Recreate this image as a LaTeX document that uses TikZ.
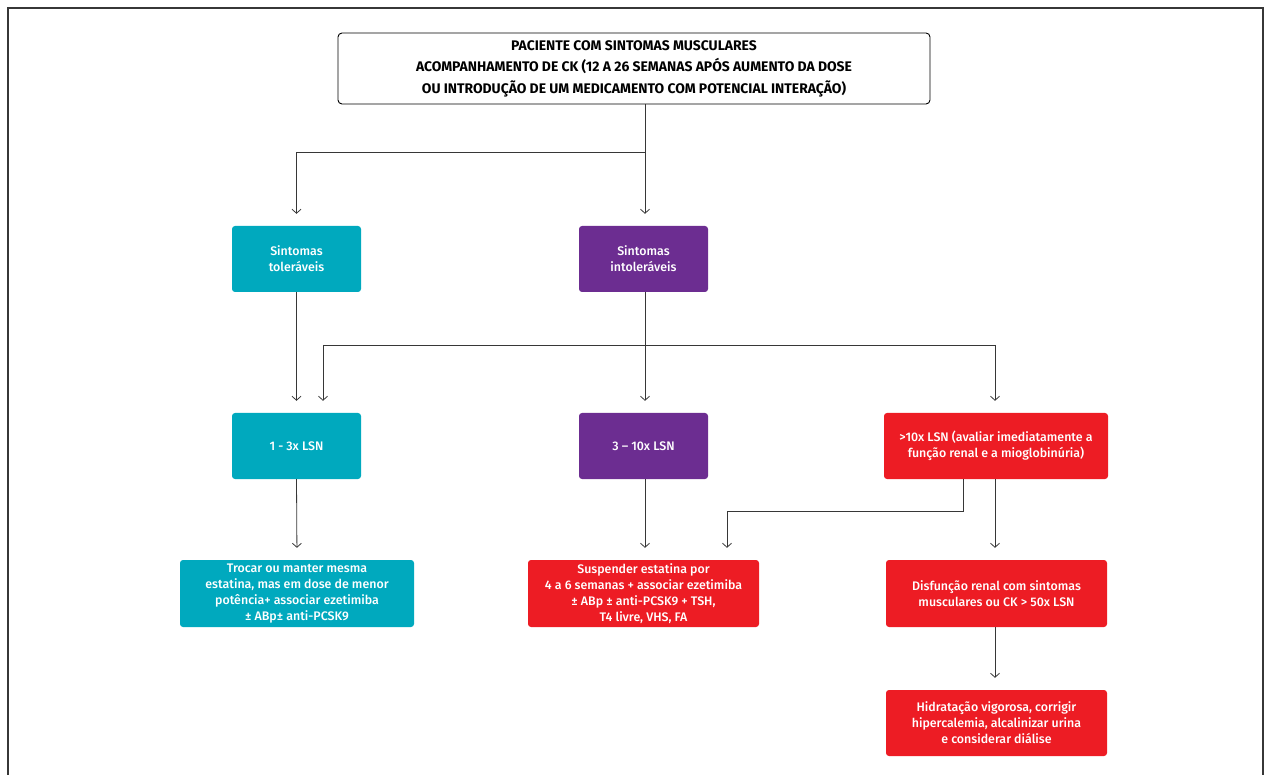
\documentclass[tikz,border=0pt]{standalone}
\usepackage{fontspec}
\setmainfont{Fira Sans}
\newfontfamily\medfont{Fira Sans}[UprightFont=* Medium, BoldFont=* Bold]
\usetikzlibrary{arrows.meta, positioning}
\definecolor{tealbox}{RGB}{0, 169, 190}
\definecolor{purplebox}{RGB}{108, 45, 145}
\definecolor{redbox}{RGB}{237, 28, 36}
\definecolor{linegray}{RGB}{55, 55, 55}
\tikzset{
  headbox/.style  = {rectangle, rounded corners=4pt, draw=black, fill=white, line width=0.9pt, minimum width=592, minimum height=71, align=center, font=\fontsize{13.9}{21.5}\selectfont\bfseries},
  tolbox/.style   = {rectangle, rounded corners=3pt, fill=tealbox, text=white, minimum width=129, minimum height=66, align=center, font=\medfont\fontsize{12.4}{16}\selectfont},
  intbox/.style   = {tolbox, fill=purplebox},
  alertbox/.style = {tolbox, fill=redbox},
  wideteal/.style = {tolbox, minimum width=234, minimum height=67},
  widered/.style  = {alertbox, minimum width=221, minimum height=67},
  link/.style     = {-{Straight Barb[length=4pt, width=9pt]}, linegray, line width=0.8pt, shorten >=12pt},
  line/.style     = {linegray, line width=0.8pt},
  frame/.style    = {linegray, line width=1.3pt},
}
\begin{document}
\begin{tikzpicture}[x=1pt, y=-1pt]

\useasboundingbox (0,0) rectangle (1269,775);

% moldura (sem lado inferior)
\draw[frame] (8,775) -- (8,8) -- (1263,8) -- (1263,775);

% === caixa principal ===
\node[headbox] (head) at (634,68.5) {PACIENTE COM SINTOMAS MUSCULARES\\ACOMPANHAMENTO DE CK (12 A 26 SEMANAS APÓS AUMENTO DA DOSE\\OU INTRODUÇÃO DE UM MEDICAMENTO COM POTENCIAL INTERAÇÃO)};

% === sintomas ===
\node[tolbox] (tol) at (296.5,259) {Sintomas\\toleráveis};
\node[intbox] (intol) at (643.5,259) {Sintomas\\intoleráveis};

% === níveis de CK ===
\node[tolbox] (low) at (296.5,446) {1 - 3x LSN};
\node[intbox] (mid) at (643.5,446) {3 – 10x LSN};
\node[alertbox, minimum width=224] (high) at (996,446) {>10x LSN (avaliar imediatamente a\\função renal e a mioglobinúria)};

% === condutas ===
\node[wideteal] (swap) at (297,593.5) {Trocar ou manter mesma\\estatina, mas em dose de menor\\potência+ associar ezetimiba\\± ABp± anti-PCSK9};
\node[widered, minimum width=231] (stop) at (643.5,593.5) {Suspender estatina por\\4 a 6 semanas + associar ezetimiba\\± ABp ± anti-PCSK9 + TSH,\\T4 livre, VHS, FA};
\node[widered] (renal) at (996.5,593.5) {Disfunção renal com sintomas\\musculares ou CK > 50x LSN};
\node[widered, minimum height=66] (hydra) at (996.5,723) {Hidratação vigorosa, corrigir\\hipercalemia, alcalinizar urina\\e considerar diálise};

% conectores: caixa principal -> sintomas
\coordinate (split) at (645,152);
\draw[line] (head.south -| split) -- (split);
\draw[link] (split) -| (tol.north);
\draw[link] (split) -- (split |- intol.north);

% toleráveis -> 1-3x
\draw[link] (tol.south) -- (low.north);

% intoleráveis -> três níveis
\coordinate (bus) at (645,345);
\coordinate (busl) at (323,345);
\coordinate (busr) at (995,345);
\draw[line] (intol.south -| bus) -- (bus);
\draw[line] (busl) -- (busr);
\draw[link] (busl) -- (busl |- low.north);
\draw[link] (bus) -- (bus |- mid.north);
\draw[link] (busr) -- (busr |- high.north);

% níveis -> condutas
\draw[link] (low.south) -- (swap.north);
\draw[link] (mid.south -| bus) -- (bus |- stop.north);
\coordinate (hk) at (963,511);
\coordinate (hkl) at (727,511);
\draw[link] (high.south -| hk) -- (hk) -- (hkl) -- (hkl |- stop.north);
\draw[link] (high.south -| busr) -- (busr |- renal.north);
\draw[link] (renal.south -| busr) -- (busr |- hydra.north);

\end{tikzpicture}
\end{document}
